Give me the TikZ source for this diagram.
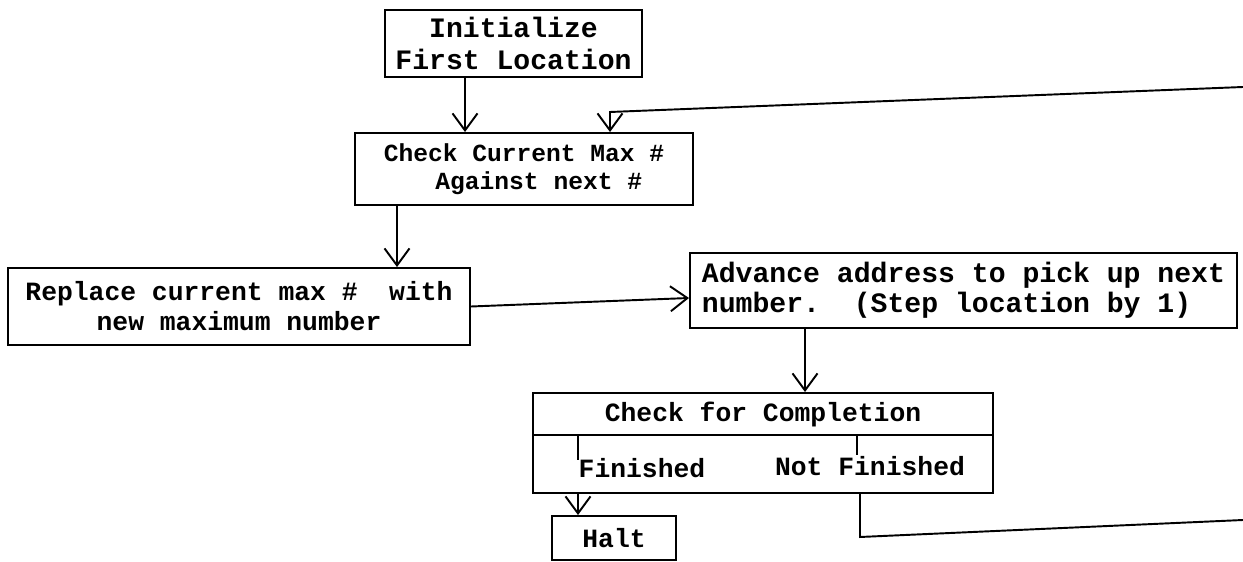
\documentclass[tikz,border=0pt]{standalone}
\usepackage{fontspec}
\setmonofont{Liberation Mono}[WordSpace={1,0,0}]
\usetikzlibrary{arrows.meta,calc,positioning}

\begin{document}
\begin{tikzpicture}[auto,>={Straight Barb[length=0.34cm,width=0.5cm]},line width=1.1pt,font=\ttfamily\bfseries\fontsize{15}{17}\selectfont]
	\tikzstyle{block} = [draw, rectangle, inner sep=0pt]
	\useasboundingbox (0,0) rectangle (24.86,-11.24);

	\node [block, minimum width=5.14cm, minimum height=1.34cm, align=center, font=\ttfamily\bfseries\fontsize{16}{18}\selectfont] (init) at (10.27,-0.87) {Initialize\\First Location};
	\node [block, minimum width=6.76cm, minimum height=1.44cm, align=center, font=\ttfamily\bfseries\fontsize{14}{16}\selectfont] (check) at (10.48,-3.38) {Check Current Max \#\\~~Against next \#};
	\node [block, minimum width=9.24cm, minimum height=1.54cm, align=center] (replace) at (4.78,-6.13) {Replace current max \#~ with\\new maximum number};
	\node [block, minimum width=10.94cm, minimum height=1.5cm, align=left, font=\ttfamily\bfseries\fontsize{16}{17}\selectfont] (advance) at (19.27,-5.81) {Advance address to pick up next\\number.~ (Step location by 1)};
	\node [block, minimum width=9.2cm, minimum height=0.84cm] (compl) at (15.26,-8.28) {Check for Completion};
	\node [block, minimum width=9.2cm, minimum height=1.16cm, below = -1.1pt of compl] (outcome) {};
	\node (fin) at (12.84,-9.36) {Finished};
	\node (notfin) at (17.4,-9.32) {Not Finished};
	\node [block, minimum width=2.48cm, minimum height=0.88cm] (halt) at (12.28,-10.76) {Halt};

	\node [coordinate] (a1) at (9.3,0) {};
	\node [coordinate] (a2) at (7.94,0) {};
	\node [coordinate] (a3) at (16.1,0) {};
	\node [coordinate] (a4) at (0,-5.96) {};
	\node [coordinate] (t1) at (11.56,-9.2) {};
	\node [coordinate] (t2) at (17.14,-9.1) {};
	\node [coordinate] (c1) at (17.2,-10.74) {};
	\node [coordinate] (c2) at (24.86,-10.4) {};
	\node [coordinate] (c3) at (24.86,-1.74) {};
	\node [coordinate] (c4) at (12.2,-2.24) {};

	\draw [->] (init.south -| a1) -- (check.north -| a1);
	\draw [->] (c3) -- (c4) -- (c4 |- check.north);
	\draw [->] (check.south -| a2) -- (replace.north -| a2);
	\draw [->] (replace.east) -- (advance.west |- a4);
	\draw [->] (advance.south -| a3) -- (compl.north -| a3);
	\draw (t1 |- compl.south) -- (t1);
	\draw (t2 |- compl.south) -- (t2);
	\draw [->] (t1 |- outcome.south) -- (t1 |- halt.north);
	\draw (c1 |- outcome.south) -- (c1) -- (c2);

\end{tikzpicture}
\end{document}
